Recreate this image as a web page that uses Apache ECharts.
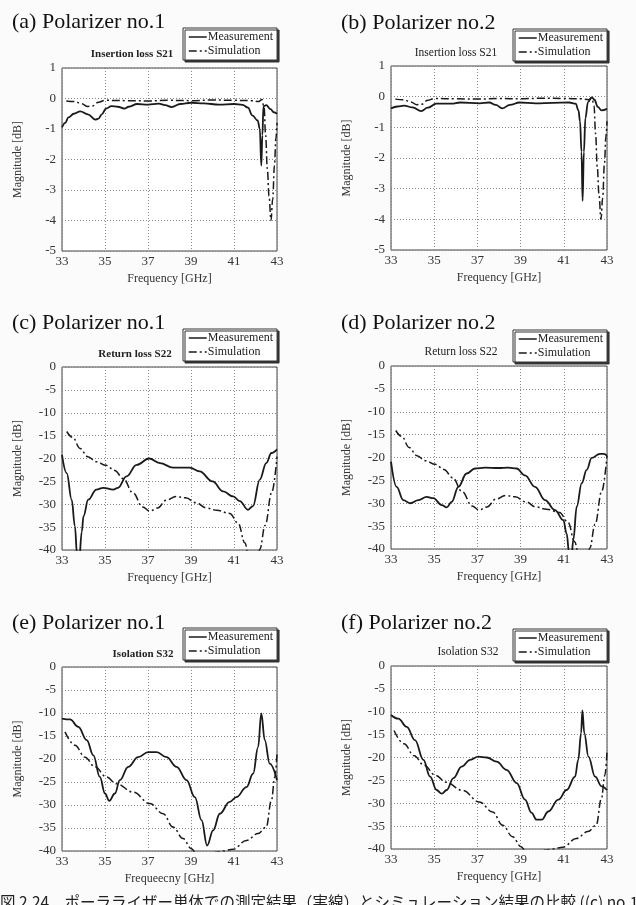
<!DOCTYPE html>
<html>
<head>
<meta charset="utf-8">
<script src="https://cdn.jsdelivr.net/npm/echarts@6/dist/echarts.min.js"></script>
<style>
  html, body { margin: 0; padding: 0; background: #fbfbfb; }
  #chart { width: 636px; height: 905px; }
</style>
</head>
<body>
<div id="chart"></div>
<script>
'use strict';
/* polarizer measurement vs simulation, 6 panels */

// (a) insertion loss S21, polarizer no.1
var aMeasFreq = [33.0, 33.15, 33.3, 33.55, 33.85, 34.2, 34.55, 34.7, 34.85, 35.05, 35.3, 35.6, 35.9, 36.1, 36.5, 37.0, 37.5, 37.8, 38.1, 38.5, 39.0, 39.6, 40.3, 41.0, 41.4, 41.65, 41.85, 42.1, 42.2, 42.27, 42.32, 42.37, 42.5, 42.7, 42.85, 43.0];
var aMeasMag = [-0.95, -0.8, -0.62, -0.5, -0.42, -0.52, -0.69, -0.66, -0.52, -0.33, -0.25, -0.27, -0.33, -0.27, -0.18, -0.2, -0.17, -0.22, -0.28, -0.18, -0.14, -0.16, -0.2, -0.18, -0.21, -0.3, -0.55, -0.72, -1.0, -2.2, -1.2, -0.25, -0.22, -0.35, -0.45, -0.5];

// (b) insertion loss S21, polarizer no.2
var bMeasFreq = [33.0, 33.3, 33.6, 34.0, 34.4, 34.7, 35.1, 35.8, 36.2, 37.1, 37.55, 37.85, 38.15, 38.5, 38.95, 39.7, 40.5, 41.25, 41.55, 41.68, 41.75, 41.82, 41.87, 41.93, 42.0, 42.12, 42.3, 42.42, 42.57, 42.75, 43.0];
var bMeasMag = [-0.38, -0.32, -0.29, -0.35, -0.47, -0.36, -0.23, -0.23, -0.19, -0.22, -0.19, -0.27, -0.38, -0.27, -0.19, -0.22, -0.2, -0.19, -0.23, -0.45, -0.8, -1.8, -3.4, -1.8, -0.7, -0.18, -0.02, -0.1, -0.33, -0.45, -0.4];

// simulation S21 (same for a and b)
var s21SimFreq = [33.2, 33.6, 33.9, 34.2, 34.4, 34.7, 35.0, 36.0, 37.0, 38.0, 39.0, 40.0, 41.0, 41.8, 42.15, 42.3, 42.4, 42.47, 42.55, 42.63, 42.72, 42.8, 42.88, 42.95, 43.0];
var s21SimMag = [-0.08, -0.1, -0.17, -0.26, -0.25, -0.12, -0.06, -0.07, -0.08, -0.06, -0.07, -0.05, -0.06, -0.07, -0.1, -0.03, -0.3, -1.2, -2.3, -3.2, -4.0, -3.3, -2.2, -1.3, -0.8];

// (c) return loss S22, polarizer no.1
var cMeasFreq = [33.0, 33.22, 33.45, 33.6, 33.7, 33.8, 33.92, 34.0, 34.22, 34.6, 34.92, 35.38, 35.6, 36.0, 36.47, 37.05, 37.55, 38.17, 38.94, 39.4, 40.0, 40.5, 40.96, 41.27, 41.65, 41.88, 42.2, 42.5, 42.74, 43.0];
var cMeasMag = [-19.2, -23.2, -29, -34.8, -41, -42, -36, -32.6, -29, -26.8, -26.4, -26.8, -26.4, -23.9, -21.4, -20, -21, -22, -22, -22.8, -25, -27.2, -28.3, -29.3, -31.2, -30.4, -24.6, -21, -18.8, -18];

// (d) return loss S22, polarizer no.2
var dMeasFreq = [33.0, 33.26, 33.57, 33.88, 34.27, 34.65, 34.96, 35.35, 35.58, 35.81, 36.12, 36.5, 36.89, 37.35, 37.97, 38.43, 38.82, 39.2, 39.67, 40.13, 40.59, 40.98, 41.13, 41.25, 41.35, 41.44, 41.6, 41.83, 42.06, 42.29, 42.67, 42.85, 43.0];
var dMeasMag = [-20.9, -26.4, -29.3, -30, -29.3, -28.6, -28.9, -30.4, -30.9, -29.7, -26.4, -23.5, -22.4, -22.2, -22.3, -22.2, -22.4, -23.9, -26.4, -29.3, -31.5, -33.7, -36.6, -41, -42, -38, -30.7, -25.6, -22.7, -20.1, -19.2, -19.2, -19.6];

// simulation S22 (same for c and d)
var s22SimFreq = [33.22, 33.5, 33.84, 34.2, 34.6, 35.05, 35.45, 35.85, 36.3, 36.75, 37.08, 37.45, 37.85, 38.3, 38.75, 39.25, 39.7, 40.2, 40.8, 41.2, 41.5, 41.7, 41.9, 42.1, 42.2, 42.45, 42.75, 43.0];
var s22SimMag = [-14.1, -15.4, -17.8, -19.6, -20.7, -21.5, -22.6, -24.4, -27.5, -30.6, -31.5, -30.8, -29.1, -28.3, -28.6, -29.7, -30.8, -31.3, -32, -34.2, -38.4, -41.5, -44, -42, -39.8, -34.6, -27.5, -19.6];

// (e) isolation S32, polarizer no.1
var eMeasFreq = [33.0, 33.37, 33.76, 34.15, 34.46, 34.76, 35.0, 35.2, 35.46, 35.69, 36.08, 36.54, 37.01, 37.4, 37.86, 38.33, 38.79, 39.18, 39.49, 39.75, 40.03, 40.34, 40.8, 41.11, 41.58, 41.89, 42.12, 42.27, 42.43, 42.66, 43.0];
var eMeasMag = [-11.2, -11.4, -13, -15.9, -19.2, -23.9, -27.5, -29.1, -27.5, -24.6, -21.7, -19.6, -18.5, -18.5, -19.6, -21.7, -24.6, -28.3, -33.3, -38.8, -35.5, -31.9, -29.3, -28.3, -26.1, -23.2, -17.4, -10.1, -15.9, -21, -24.6];

// (f) isolation S32, polarizer no.2
var fMeasFreq = [33.0, 33.34, 33.73, 34.11, 34.5, 34.81, 35.11, 35.35, 35.58, 35.89, 36.27, 36.66, 37.04, 37.43, 37.89, 38.35, 38.82, 39.2, 39.51, 39.74, 39.98, 40.28, 40.75, 41.13, 41.52, 41.67, 41.8, 41.86, 41.95, 42.14, 42.45, 42.75, 43.0];
var fMeasMag = [-10.7, -11.5, -13.3, -16.2, -20.5, -24.2, -27.1, -27.9, -27.1, -24.5, -22, -20.5, -19.8, -20, -20.9, -22.7, -25.6, -29.2, -32.1, -33.6, -33.6, -31.8, -29.2, -27.1, -24.2, -20.5, -14.7, -9.7, -14.7, -19.8, -24.2, -26.3, -27.1];

// simulation S32 (same for e and f)
var s32SimFreq = [33.14, 33.6, 34.07, 34.53, 35.07, 35.54, 36.31, 37.09, 37.7, 38.17, 38.63, 39.02, 39.3, 39.7, 40.1, 40.5, 40.96, 41.58, 42.12, 42.5, 42.74, 42.9, 43.0];
var s32SimMag = [-14.1, -17, -19.6, -21.7, -23.9, -25.4, -27.2, -29.7, -31.9, -34.8, -37.3, -39.5, -41, -42, -40.3, -40, -39.6, -37.7, -36.2, -34.8, -29, -23.9, -18.8];

var xTickStart = 33;
var xTickStep = 2;
var caption = '図 2.24　ポーラライザー単体での測定結果（実線）とシミュレーション結果の比較 ((c) no.1';

var panels = [
  {grid: [62, 68, 215, 183], y: [-5, 1, 1], label: '(a) Polarizer no.1', lab: [12, 11], sub: 'Insertion loss S21', bold: true, subPos: [132, 49], leg: [183, 28], xName: 'Frequency [GHz]', meas: [aMeasFreq, aMeasMag], sim: [s21SimFreq, s21SimMag]},
  {grid: [391, 66, 216, 184], y: [-5, 1, 1], label: '(b) Polarizer no.2', lab: [341, 12], sub: 'Insertion loss S21', bold: false, subPos: [456, 47], leg: [513, 29], xName: 'Frequency [GHz]', meas: [bMeasFreq, bMeasMag], sim: [s21SimFreq, s21SimMag]},
  {grid: [62, 367, 215, 183], y: [-40, 0, 5], label: '(c) Polarizer no.1', lab: [12, 312], sub: 'Return loss S22', bold: true, subPos: [135, 349], leg: [183, 329], xName: 'Frequency [GHz]', meas: [cMeasFreq, cMeasMag], sim: [s22SimFreq, s22SimMag]},
  {grid: [391, 366, 216, 183], y: [-40, 0, 5], label: '(d) Polarizer no.2', lab: [341, 312], sub: 'Return loss S22', bold: false, subPos: [461, 346], leg: [513, 330], xName: 'Frequency [GHz]', meas: [dMeasFreq, dMeasMag], sim: [s22SimFreq, s22SimMag]},
  {grid: [62, 667, 215, 184], y: [-40, 0, 5], label: '(e) Polarizer no.1', lab: [12, 612], sub: 'Isolation S32', bold: true, subPos: [143, 649], leg: [183, 628], xName: 'Frequeecny [GHz]', meas: [eMeasFreq, eMeasMag], sim: [s32SimFreq, s32SimMag]},
  {grid: [391, 666, 216, 183], y: [-40, 0, 5], label: '(f) Polarizer no.2', lab: [341, 612], sub: 'Isolation S32', bold: false, subPos: [468, 646], leg: [513, 629], xName: 'Frequency [GHz]', meas: [fMeasFreq, fMeasMag], sim: [s32SimFreq, s32SimMag]}
];

var serif = 'Liberation Serif';

function pairs(freq, mag) {
  // x axis runs 0..10 so the ticks land on 33, 35, ... 43
  return freq.map(function(f, i) { return [f - xTickStart, mag[i]]; });
}

var option = {
  backgroundColor: '#fbfbfb',
  animation: false,
  title: [],
  legend: [],
  grid: [],
  xAxis: [],
  yAxis: [],
  series: []
};

panels.forEach(function(p, i) {
  option.grid.push({
    left: p.grid[0], top: p.grid[1], width: p.grid[2], height: p.grid[3],
    show: true, backgroundColor: '#fff', borderColor: '#444', borderWidth: 1
  });
  option.xAxis.push({
    type: 'value', gridIndex: i, min: 0, max: 10, interval: xTickStep,
    name: p.xName, nameLocation: 'middle', nameGap: 22,
    nameTextStyle: {fontFamily: serif, fontSize: 12, color: '#333'},
    axisLine: {show: false},
    axisTick: {show: false},
    axisLabel: {fontFamily: serif, fontSize: 13, color: '#333', margin: 4,
      formatter: function(v) { return v + xTickStart; }},
    splitLine: {show: true, lineStyle: {color: '#888', type: [1, 2], width: 1}}
  });
  option.yAxis.push({
    type: 'value', gridIndex: i, min: p.y[0], max: p.y[1], interval: p.y[2],
    name: 'Magnitude [dB]', nameLocation: 'middle', nameGap: 38,
    nameTextStyle: {fontFamily: serif, fontSize: 12, color: '#333'},
    axisLine: {show: false},
    axisTick: {show: false},
    axisLabel: {fontFamily: serif, fontSize: 13, color: '#333', margin: 6},
    splitLine: {show: true, lineStyle: {color: '#888', type: [1, 2], width: 1}}
  });
  option.series.push({
    name: 'Measurement', type: 'line', xAxisIndex: i, yAxisIndex: i,
    data: pairs(p.meas[0], p.meas[1]), showSymbol: false, symbol: 'none',
    smooth: 0.4, smoothMonotone: 'x', clip: true,
    lineStyle: {color: '#1a1a1a', width: 1.8, type: 'solid'},
    itemStyle: {color: '#1a1a1a'}
  });
  option.series.push({
    name: 'Simulation', type: 'line', xAxisIndex: i, yAxisIndex: i,
    data: pairs(p.sim[0], p.sim[1]), showSymbol: false, symbol: 'none',
    smooth: 0.4, smoothMonotone: 'x', clip: true,
    lineStyle: {color: '#1a1a1a', width: 1.5, type: [8, 3, 2, 3]},
    itemStyle: {color: '#1a1a1a'}
  });
  option.title.push({
    text: p.label, left: p.lab[0], top: p.lab[1], padding: 0,
    textStyle: {fontFamily: serif, fontSize: 22, fontWeight: 'normal', color: '#111'}
  });
  option.title.push({
    text: p.sub, left: p.subPos[0], top: p.subPos[1], padding: 0, textAlign: 'center',
    textStyle: {fontFamily: serif, fontSize: p.bold ? 11 : 11.5, fontWeight: p.bold ? 'bold' : 'normal', color: '#222'}
  });
  option.legend.push({
    left: p.leg[0], top: p.leg[1], orient: 'vertical',
    data: ['Measurement', 'Simulation'],
    itemWidth: 18, itemHeight: 12, itemGap: 2,
    padding: [3, 4, 3, 5],
    backgroundColor: '#fff', borderColor: '#333', borderWidth: 1,
    shadowColor: '#333', shadowOffsetX: 2, shadowOffsetY: 2, shadowBlur: 0,
    selectedMode: false,
    itemStyle: {opacity: 0, borderWidth: 0},
    lineStyle: {width: 1.5},
    textStyle: {fontFamily: serif, fontSize: 12, color: '#222', padding: [0, 0, 0, -4]}
  });
});

option.title.push({
  text: caption, left: 0, top: 894, padding: 0,
  textStyle: {fontFamily: 'Noto Sans CJK JP', fontSize: 15.5, fontWeight: 'normal', color: '#222'}
});

var chart = echarts.init(document.getElementById('chart'), null, {renderer: 'canvas'});
chart.setOption(option);
</script>
</body>
</html>
